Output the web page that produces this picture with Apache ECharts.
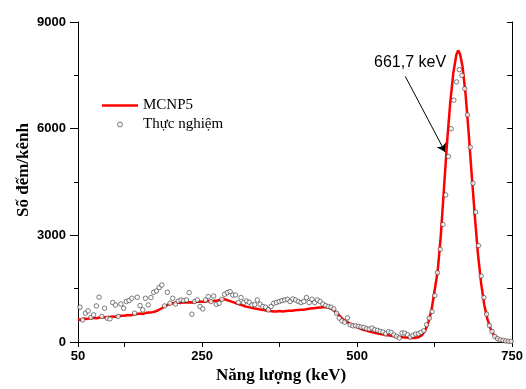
<!DOCTYPE html>
<html>
<head>
<meta charset="utf-8">
<script src="https://cdn.jsdelivr.net/npm/echarts@6/dist/echarts.min.js"></script>
<style>
html,body{margin:0;padding:0;background:#fff;}
#chart{width:526px;height:389px;}
</style>
</head>
<body>
<div id="chart"></div>
<script>
// ---- Data ----
const xTickValues = [50, 125, 250, 375, 500, 625, 750];
const xLabelValues = [50, 250, 500, 750];
const yLabelValues = [0, 3000, 6000, 9000];

const mcnpEnergy = [50,55,60,65,70,75,80,85,90,95,100,105,110,115,120,125,130,135,140,145,150,155,160,165,170,175,180,185,190,195,200,205,210,215,220,225,230,235,240,245,250,255,260,265,270,275,280,285,290,295,300,305,310,315,320,325,330,335,340,345,350,355,360,365,370,375,380,385,390,395,400,405,410,415,420,425,430,435,440,445,450,455,460,465,470,475,480,485,490,495,500,505,510,515,520,525,530,535,540,545,550,555,560,565,570,575,580,585,590,595,600,605,610,615,620,625,630,635,640,645,650,655,660,663,666,670,675,680,685,690,695,700,705,710,715,720,725,730,735,740,745,750];
const mcnpCounts = [640,620,660,650,670,680,670,690,700,690,700,720,710,730,740,740,760,750,770,790,800,790,820,830,840,860,900,950,1000,1050,1080,1100,1110,1100,1120,1110,1120,1110,1130,1140,1130,1140,1150,1140,1160,1170,1190,1210,1180,1150,1120,1090,1060,1030,1000,980,960,940,930,910,900,880,870,860,860,870,860,870,880,880,890,900,910,910,930,940,950,960,970,975,980,960,920,850,770,680,600,550,500,460,420,380,345,320,295,270,250,230,215,200,190,175,165,150,140,130,125,115,110,120,140,200,330,560,900,1450,2000,3000,4300,5600,6700,7550,8080,8200,8100,7750,6950,5850,4650,3500,2450,1650,1050,650,380,210,110,60,35,20,12,8];

const expEnergy = [53.2,57.6,62.0,66.4,70.8,75.2,79.6,84.0,88.4,92.8,97.2,101.6,106.0,110.4,114.8,119.2,123.6,128.0,132.4,136.8,141.2,145.6,150.0,154.4,158.8,163.2,167.6,172.0,176.4,180.8,185.2,189.6,194.0,198.4,202.8,207.2,211.6,216.0,220.4,224.8,229.2,233.6,238.0,242.4,246.8,251.2,255.6,260.0,264.4,268.8,273.2,277.6,282.0,286.4,290.8,295.2,299.6,304.0,308.4,312.8,317.2,321.6,326.0,330.4,334.8,339.2,343.6,348.0,352.4,356.8,361.2,365.6,370.0,374.4,378.8,383.2,387.6,392.0,396.4,400.8,405.2,409.6,414.0,418.4,422.8,427.2,431.6,436.0,440.4,444.8,449.2,453.6,458.0,462.4,466.8,471.2,475.6,480.0,484.4,488.8,493.2,497.6,502.0,506.4,510.8,515.2,519.6,524.0,528.4,532.8,537.2,541.6,546.0,550.4,554.8,559.2,563.6,568.0,572.4,576.8,581.2,585.6,590.0,594.4,598.8,603.2,607.6,612.0,616.4,620.8,625.2,629.6,634.0,638.4,642.8,647.2,651.6,656.0,660.4,664.8,669.2,673.6,678.0,682.4,686.8,691.2,695.6,700.0,704.4,708.8,713.2,717.6,722.0,726.4,730.8,735.2,739.6,744.0,748.4];
const expCounts = [980,620,810,875,690,760,1015,1260,720,950,670,650,1110,1040,720,1070,950,1140,1165,1230,810,1258,1026,903,1230,1043,1250,1398,1434,1529,1602,1015,1398,1090,1230,1070,1150,1182,1165,1182,1389,783,1138,1182,998,931,1182,1277,1138,1294,1062,1090,1200,1342,1389,1417,1322,1322,1110,1250,1110,1154,1118,1043,1050,1182,1062,998,978,903,1000,1090,1110,1138,1165,1182,1202,1138,1210,1182,1138,1110,1138,1250,1110,1202,1110,1182,1138,1070,1026,998,978,931,810,671,595,559,680,484,456,456,439,419,411,372,363,391,344,327,299,280,232,290,271,200,159,112,252,252,204,140,187,224,232,271,316,484,671,858,1305,1950,2608,3307,4136,5218,5999,6800,7315,7660,7500,7124,6388,5479,4464,3653,2711,1853,1250,783,466,298,159,93,60,47,30,20,15];

const peakLabel = '661,7 keV';
const arrowFrom = [577.7, 7471];
const arrowTo = [641.9, 5347];

// ---- Chart ----
const chart = echarts.init(document.getElementById('chart'), null, {renderer: 'canvas'});
const sans = 'Liberation Sans, Arial, sans-serif';
const serif = 'Liberation Serif, Times New Roman, serif';
const axisLineStyle = {color: '#000', width: 1};
const plain = v => String(v);

const option = {
  animation: false,
  backgroundColor: '#fff',
  grid: {left: 78, right: 12, top: 22, bottom: 45, containLabel: false},
  legend: {
    orient: 'vertical',
    left: 97,
    top: 93,
    itemWidth: 36,
    itemHeight: 5,
    itemGap: 4,
    symbolKeepAspect: true,
    textStyle: {fontFamily: serif, fontSize: 15, color: '#000', lineHeight: 15},
    data: [
      {name: 'MCNP5', icon: 'path://M0,0L36,0L36,2.5L0,2.5Z', itemStyle: {color: '#ff0000', borderWidth: 0}},
      {name: 'Thực nghiệm', icon: 'circle', itemStyle: {color: '#fff', borderColor: '#333', borderWidth: 0.8}}
    ]
  },
  xAxis: [{
    type: 'value', min: 50, max: 750, position: 'bottom',
    name: 'Năng lượng (keV)', nameLocation: 'middle', nameGap: 25, nameMoveOverlap: false,
    nameTextStyle: {fontFamily: serif, fontSize: 17, fontWeight: 'bold', color: '#000', padding: [0, 28, 0, 0]},
    axisLine: {show: true, lineStyle: axisLineStyle},
    axisTick: {show: true, inside: false, length: 5, lineStyle: axisLineStyle, customValues: xTickValues},
    axisLabel: {show: true, margin: 8, fontFamily: sans, fontSize: 13, fontWeight: 'bold', color: '#000', customValues: xLabelValues, formatter: plain},
    splitLine: {show: false}
  }, {
    type: 'value', min: 50, max: 750, position: 'top',
    axisLine: {show: true, lineStyle: axisLineStyle},
    axisTick: {show: true, inside: true, length: 5, lineStyle: axisLineStyle, customValues: xTickValues},
    axisLabel: {show: false},
    splitLine: {show: false}
  }],
  yAxis: [{
    type: 'value', min: 0, max: 9000, interval: 3000, position: 'left',
    name: 'Số đếm/kênh', nameLocation: 'middle', nameGap: 46, nameRotate: 90, nameMoveOverlap: false,
    nameTextStyle: {fontFamily: serif, fontSize: 17, fontWeight: 'bold', color: '#000', padding: [0, 0, 0, 24]},
    axisLine: {show: true, lineStyle: axisLineStyle},
    axisTick: {show: true, inside: false, length: 8, lineStyle: axisLineStyle},
    minorTick: {show: true, splitNumber: 2, length: 4, lineStyle: {color: '#000', width: 1}},
    axisLabel: {show: true, margin: 12, fontFamily: sans, fontSize: 13, fontWeight: 'bold', color: '#000', customValues: yLabelValues, formatter: plain},
    splitLine: {show: false},
    minorSplitLine: {show: false}
  }, {
    type: 'value', min: 0, max: 9000, interval: 1500, position: 'right',
    axisLine: {show: true, lineStyle: axisLineStyle},
    axisTick: {show: true, inside: true, length: 5, lineStyle: axisLineStyle},
    axisLabel: {show: false},
    splitLine: {show: false}
  }],
  series: [{
    name: 'MCNP5',
    type: 'line',
    xAxisIndex: 0, yAxisIndex: 0,
    data: mcnpEnergy.map((e, i) => [e, mcnpCounts[i]]),
    symbol: 'none',
    lineStyle: {color: '#ff0000', width: 2.5},
    itemStyle: {color: '#ff0000'},
    z: 2
  }, {
    name: 'Thực nghiệm',
    type: 'scatter',
    xAxisIndex: 0, yAxisIndex: 0,
    data: expEnergy.map((e, i) => [e, expCounts[i]]),
    symbol: 'circle',
    symbolSize: 4.5,
    itemStyle: {color: '#fff', borderColor: '#333', borderWidth: 0.8},
    z: 3,
    markLine: {
      silent: true,
      symbol: ['none', 'arrow'],
      symbolSize: 8,
      label: {show: false},
      lineStyle: {color: '#000', width: 1, type: 'solid'},
      data: [[{coord: arrowFrom}, {coord: arrowTo}]]
    }
  }],
  graphic: [{
    type: 'text',
    left: 374,
    top: 55,
    style: {text: peakLabel, font: '16px ' + sans, fill: '#000'}
  }]
};
chart.setOption(option);
</script>
</body>
</html>
